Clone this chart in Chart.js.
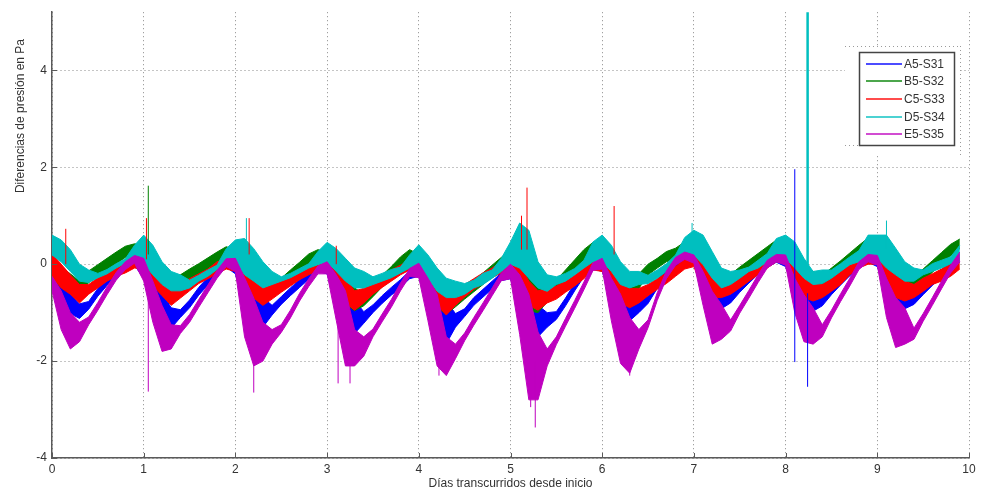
<!DOCTYPE html>
<html>
<head>
<meta charset="utf-8">
<script src="https://cdn.jsdelivr.net/npm/chart.js@4.4.1/dist/chart.umd.min.js"></script>
<style>
  html, body { margin: 0; padding: 0; background: #fff; }
  #wrap { width: 988px; height: 493px; position: relative; }
</style>
</head>
<body>
<div id="wrap"><canvas id="chart"></canvas></div>
<script>
// sample days (every 0.1 day)
const days = [
  0.0, 0.1, 0.2, 0.3, 0.4, 0.5, 0.6, 0.7, 0.8, 0.9,
  1.0, 1.1, 1.2, 1.3, 1.4, 1.5, 1.6, 1.7, 1.8, 1.9,
  2.0, 2.1, 2.2, 2.3, 2.4, 2.5, 2.6, 2.7, 2.8, 2.9,
  3.0, 3.1, 3.2, 3.3, 3.4, 3.5, 3.6, 3.7, 3.8, 3.9,
  4.0, 4.1, 4.2, 4.3, 4.4, 4.5, 4.6, 4.7, 4.8, 4.9,
  5.0, 5.1, 5.2, 5.3, 5.4, 5.5, 5.6, 5.7, 5.8, 5.9,
  6.0, 6.1, 6.2, 6.3, 6.4, 6.5, 6.6, 6.7, 6.8, 6.9,
  7.0, 7.1, 7.2, 7.3, 7.4, 7.5, 7.6, 7.7, 7.8, 7.9,
  8.0, 8.1, 8.2, 8.3, 8.4, 8.5, 8.6, 8.7, 8.8, 8.9,
  9.0, 9.1, 9.2, 9.3, 9.4, 9.5, 9.6, 9.7, 9.8, 9.9
];

const seriesNames = ['A5-S31', 'B5-S32', 'C5-S33', 'D5-S34', 'E5-S35'];
const seriesColors = ['#0000ff', '#008000', '#ff0000', '#00bfbf', '#bf00bf'];

// upper / lower edge of each noisy trace (Pa)
const a5High = [
  -0.05, -0.35, -0.62, -0.82, -0.77, -0.5, -0.28, -0.08, 0.05, 0.14,
  0.1, -0.3, -0.6, -0.9, -0.94, -0.74, -0.48, -0.27, -0.07, 0.1,
  0.1, -0.2, -0.55, -0.69, -0.85, -0.67, -0.49, -0.32, -0.15, 0.01,
  0.05, -0.2, -0.62, -0.75, -0.98, -0.84, -0.65, -0.48, -0.32, -0.14,
  0.0, -0.22, -0.62, -0.76, -1.02, -0.92, -0.69, -0.52, -0.35, -0.18,
  0.0, -0.2, -0.5, -0.85, -1.0, -0.98, -0.7, -0.39, -0.1, 0.06,
  0.15, -0.2, -0.62, -0.76, -0.78, -0.65, -0.34, -0.02, 0.11, 0.21,
  0.2, -0.05, -0.42, -0.58, -0.62, -0.42, -0.23, -0.05, 0.1, 0.2,
  0.2, -0.1, -0.45, -0.62, -0.66, -0.47, -0.27, -0.08, 0.08, 0.2,
  0.18, -0.1, -0.45, -0.6, -0.63, -0.47, -0.28, -0.11, 0.06, 0.2
];
const a5Low = [
  -0.4, -0.82, -1.02, -1.12, -0.93, -0.66, -0.44, -0.24, -0.11, -0.02,
  -0.3, -0.85, -1.15, -1.32, -1.1, -0.9, -0.64, -0.43, -0.23, -0.06,
  -0.2, -0.9, -1.16, -1.3, -1.05, -0.83, -0.65, -0.48, -0.31, -0.15,
  -0.2, -0.85, -1.23, -1.43, -1.22, -1.0, -0.81, -0.64, -0.48, -0.3,
  -0.25, -0.9, -1.3, -1.64, -1.3, -1.08, -0.85, -0.68, -0.51, -0.34,
  -0.3, -0.9, -1.3, -1.5, -1.3, -1.14, -0.86, -0.55, -0.26, -0.1,
  -0.15, -0.75, -1.1, -1.17, -1.0, -0.81, -0.5, -0.18, -0.05, 0.05,
  0.0, -0.55, -0.78, -0.92, -0.8, -0.58, -0.39, -0.21, -0.06, 0.04,
  -0.05, -0.6, -0.85, -0.97, -0.86, -0.63, -0.43, -0.24, -0.08, 0.04,
  -0.05, -0.6, -0.85, -0.92, -0.83, -0.63, -0.44, -0.27, -0.1, 0.04
];
const b5High = [
  0.1, -0.05, -0.2, -0.35, -0.14, -0.01, 0.12, 0.25, 0.37, 0.42,
  0.4, 0.05, -0.22, -0.35, -0.22, -0.1, 0.01, 0.13, 0.25, 0.36,
  0.3, -0.08, -0.28, -0.42, -0.45, -0.29, -0.12, 0.04, 0.21, 0.3,
  0.25, -0.08, -0.28, -0.49, -0.62, -0.43, -0.23, -0.05, 0.15, 0.3,
  0.2, -0.05, -0.42, -0.62, -0.64, -0.48, -0.33, -0.18, -0.02, 0.14,
  0.3, 0.0, -0.29, -0.49, -0.54, -0.33, -0.12, 0.09, 0.3, 0.45,
  0.35, 0.0, -0.22, -0.35, -0.2, 0.0, 0.12, 0.26, 0.33, 0.46,
  0.46, 0.26, -0.01, -0.15, -0.21, -0.06, 0.08, 0.22, 0.36, 0.5,
  0.5, 0.26, -0.01, -0.15, -0.23, -0.08, 0.07, 0.23, 0.39, 0.54,
  0.5, 0.26, -0.01, -0.15, -0.27, -0.1, 0.07, 0.24, 0.41, 0.52
];
const b5Low = [
  -0.3, -0.45, -0.55, -0.62, -0.38, -0.25, -0.12, 0.01, 0.14, 0.22,
  0.0, -0.35, -0.55, -0.69, -0.46, -0.34, -0.23, -0.11, 0.01, 0.12,
  -0.05, -0.5, -0.69, -0.8, -0.69, -0.53, -0.36, -0.2, -0.03, 0.1,
  -0.05, -0.55, -0.82, -0.96, -0.86, -0.67, -0.47, -0.29, -0.09, 0.1,
  -0.1, -0.6, -0.9, -1.03, -0.88, -0.72, -0.57, -0.42, -0.26, -0.1,
  -0.05, -0.75, -0.96, -1.0, -0.78, -0.57, -0.36, -0.15, 0.06, 0.2,
  0.0, -0.55, -0.76, -0.8, -0.5, -0.22, -0.08, 0.05, 0.12, 0.2,
  0.15, -0.29, -0.42, -0.49, -0.45, -0.3, -0.16, -0.02, 0.12, 0.27,
  0.2, -0.29, -0.49, -0.56, -0.47, -0.32, -0.17, -0.01, 0.15, 0.3,
  0.2, -0.29, -0.49, -0.56, -0.51, -0.34, -0.17, 0.0, 0.17, 0.32
];
const c5High = [
  0.22, 0.0, -0.22, -0.42, -0.42, -0.28, -0.15, -0.02, 0.05, 0.15,
  0.2, 0.0, -0.2, -0.45, -0.4, -0.3, -0.2, -0.1, 0.05, 0.1,
  0.15, 0.0, -0.2, -0.45, -0.42, -0.32, -0.22, -0.1, 0.0, 0.1,
  0.1, -0.05, -0.3, -0.55, -0.5, -0.38, -0.25, -0.12, -0.02, 0.08,
  0.1, -0.1, -0.35, -0.6, -0.55, -0.42, -0.3, -0.18, -0.08, 0.05,
  0.1, 0.0, -0.35, -0.55, -0.5, -0.45, -0.35, -0.22, -0.08, 0.08,
  0.15, -0.05, -0.3, -0.5, -0.5, -0.42, -0.3, -0.18, -0.05, 0.1,
  0.22, 0.0, -0.29, -0.42, -0.42, -0.29, -0.15, -0.02, 0.12, 0.25,
  0.26, 0.1, -0.29, -0.42, -0.42, -0.29, -0.15, -0.02, 0.12, 0.2,
  0.26, 0.05, -0.22, -0.35, -0.42, -0.29, -0.2, -0.1, 0.0, 0.12
];
const c5Low = [
  -0.28, -0.49, -0.62, -0.8, -0.62, -0.49, -0.35, -0.25, -0.18, -0.08,
  -0.1, -0.45, -0.65, -0.85, -0.7, -0.55, -0.4, -0.3, -0.2, -0.1,
  -0.15, -0.45, -0.7, -0.85, -0.72, -0.58, -0.45, -0.32, -0.22, -0.12,
  -0.15, -0.5, -0.8, -0.95, -0.8, -0.62, -0.48, -0.35, -0.22, -0.12,
  -0.15, -0.55, -0.85, -1.05, -0.85, -0.68, -0.52, -0.4, -0.28, -0.18,
  -0.2, -0.55, -0.85, -0.95, -0.8, -0.72, -0.58, -0.45, -0.3, -0.12,
  -0.15, -0.5, -0.8, -0.9, -0.8, -0.65, -0.52, -0.4, -0.25, -0.1,
  -0.05, -0.56, -0.69, -0.69, -0.62, -0.49, -0.35, -0.22, -0.08, 0.05,
  0.0, -0.56, -0.69, -0.76, -0.69, -0.56, -0.42, -0.22, -0.08, 0.0,
  0.0, -0.56, -0.69, -0.76, -0.69, -0.56, -0.42, -0.35, -0.25, -0.1
];
const d5High = [
  0.6, 0.5, 0.3, 0.0, -0.12, -0.19, -0.11, 0.01, 0.11, 0.39,
  0.6, 0.39, 0.05, -0.15, -0.22, -0.33, -0.23, -0.12, -0.02, 0.32,
  0.5, 0.53, 0.32, 0.05, -0.15, -0.26, -0.19, -0.09, 0.01, 0.26,
  0.45, 0.32, 0.12, -0.08, -0.15, -0.26, -0.19, -0.11, -0.06, 0.19,
  0.4, 0.19, -0.08, -0.29, -0.35, -0.4, -0.33, -0.19, -0.12, 0.12,
  0.46, 0.85, 0.7, 0.05, -0.22, -0.26, -0.19, -0.09, 0.08, 0.46,
  0.6, 0.39, 0.05, -0.15, -0.15, -0.23, -0.12, 0.01, 0.19, 0.55,
  0.7, 0.6, 0.26, -0.08, -0.15, -0.12, -0.06, 0.08, 0.22, 0.53,
  0.6, 0.46, 0.12, -0.15, -0.12, -0.12, 0.01, 0.15, 0.28, 0.6,
  0.6, 0.6, 0.33, 0.05, -0.08, -0.12, 0.01, 0.08, 0.15, 0.39
];
const d5Low = [
  0.19, 0.05, -0.15, -0.35, -0.38, -0.28, -0.2, -0.08, 0.02, 0.05,
  0.0, -0.22, -0.42, -0.55, -0.55, -0.49, -0.35, -0.25, -0.11, -0.01,
  0.05, -0.22, -0.35, -0.49, -0.42, -0.35, -0.28, -0.18, -0.08, -0.01,
  0.05, -0.15, -0.35, -0.49, -0.49, -0.42, -0.35, -0.28, -0.18, -0.08,
  0.0, -0.29, -0.56, -0.69, -0.69, -0.62, -0.49, -0.42, -0.29, -0.15,
  0.0, -0.08, -0.29, -0.49, -0.56, -0.42, -0.35, -0.22, -0.08, 0.05,
  0.05, -0.15, -0.42, -0.49, -0.42, -0.4, -0.29, -0.15, -0.01, 0.12,
  0.19, -0.01, -0.29, -0.49, -0.42, -0.29, -0.15, -0.08, 0.05, 0.12,
  0.12, -0.08, -0.29, -0.42, -0.4, -0.29, -0.15, -0.01, 0.05, 0.12,
  0.12, -0.08, -0.22, -0.35, -0.35, -0.22, -0.15, -0.08, 0.01, 0.05
];
const e5High = [
  -0.25, -0.55, -1.0, -1.2, -1.09, -0.79, -0.47, -0.17, 0.05, 0.18,
  0.12, -0.35, -0.85, -1.25, -1.27, -1.04, -0.73, -0.43, -0.13, 0.11,
  0.12, -0.28, -0.7, -1.2, -1.35, -1.25, -0.95, -0.6, -0.3, -0.04,
  0.05, -0.22, -0.55, -1.35, -1.5, -1.34, -1.03, -0.73, -0.39, -0.09,
  0.02, -0.29, -0.62, -1.5, -1.65, -1.42, -1.1, -0.8, -0.49, -0.18,
  0.0, -0.22, -0.62, -1.4, -1.75, -1.5, -1.12, -0.75, -0.37, 0.03,
  0.12, -0.29, -0.62, -1.1, -1.35, -1.15, -0.59, -0.14, 0.14, 0.25,
  0.19, -0.15, -0.56, -0.83, -1.15, -0.85, -0.54, -0.22, 0.08, 0.2,
  0.19, -0.29, -0.63, -0.9, -1.25, -0.95, -0.61, -0.29, 0.05, 0.2,
  0.18, -0.29, -0.69, -0.9, -1.32, -1.02, -0.69, -0.35, -0.02, 0.25
];
const e5Low = [
  -0.55, -1.35, -1.75, -1.6, -1.25, -0.95, -0.63, -0.33, -0.11, 0.02,
  -0.35, -1.2, -1.8, -1.75, -1.43, -1.2, -0.89, -0.59, -0.29, -0.05,
  -0.15, -1.5, -2.1, -2.0, -1.65, -1.41, -1.11, -0.76, -0.46, -0.2,
  -0.2, -1.16, -2.1, -2.1, -1.9, -1.5, -1.19, -0.89, -0.55, -0.25,
  -0.28, -1.17, -2.1, -2.3, -1.95, -1.58, -1.26, -0.96, -0.65, -0.34,
  -0.3, -1.45, -2.8, -2.8, -2.1, -1.66, -1.28, -0.91, -0.53, -0.13,
  -0.1, -1.17, -2.05, -2.25, -1.75, -1.31, -0.75, -0.3, -0.02, 0.1,
  0.02, -0.85, -1.65, -1.55, -1.38, -1.01, -0.7, -0.38, -0.08, 0.05,
  -0.02, -1.0, -1.6, -1.65, -1.5, -1.11, -0.77, -0.45, -0.11, 0.05,
  -0.02, -1.1, -1.72, -1.65, -1.55, -1.18, -0.85, -0.51, -0.18, 0.05
];

// isolated spikes: series index, day, bottom, top
const spikeSeries = [1, 4, 2, 2, 4, 2, 3, 4, 4, 2, 4, 2, 2, 4, 4, 2, 4, 3, 0, 3, 0, 3];
const spikeDays = [1.05, 1.05, 0.15, 1.03, 2.2, 2.15, 2.12, 3.12, 3.25, 3.1, 4.22, 5.18, 5.12, 5.27, 5.22, 6.13, 6.3, 6.98, 8.1, 8.24, 8.24, 9.1];
const spikeLow = [0.2, -2.63, 0.0, 0.1, -2.65, 0.2, 0.3, -2.46, -2.46, 0.0, -2.3, 0.3, 0.3, -3.37, -2.95, 0.2, -2.3, 0.3, -2.02, -0.3, -2.53, 0.3];
const spikeHigh = [1.62, -0.5, 0.73, 0.95, -1.5, 0.95, 0.95, -1.2, -1.5, 0.38, -1.5, 1.58, 1.0, -2.0, -2.0, 1.2, -1.5, 0.85, 1.96, 6.0, -0.6, 0.9];

const xTicks = [0, 1, 2, 3, 4, 5, 6, 7, 8, 9, 10];
const yTicks = [-4, -2, 0, 2, 4];

const highs = [a5High, b5High, c5High, d5High, e5High];
const lows = [a5Low, b5Low, c5Low, d5Low, e5Low];

const datasets = [];
seriesNames.forEach((name, s) => {
  const color = seriesColors[s];
  datasets.push({
    label: name,
    data: days.map((d, i) => ({ x: d, y: highs[s][i] })),
    borderColor: color, backgroundColor: color,
    borderWidth: 1, pointRadius: 0, fill: '+1', order: 10 - s
  });
  datasets.push({
    label: name + ' low',
    data: days.map((d, i) => ({ x: d, y: lows[s][i] })),
    borderColor: color, borderWidth: 1, pointRadius: 0, fill: false, order: 10 - s
  });
});
spikeDays.forEach((d, k) => {
  datasets.push({
    label: 'spike',
    data: [{ x: d, y: spikeLow[k] }, { x: d, y: spikeHigh[k] }],
    borderColor: seriesColors[spikeSeries[k]],
    borderWidth: spikeHigh[k] > 5 ? 2.5 : 1,
    pointRadius: 0, fill: false, order: 1
  });
});

const FONT = '"Liberation Sans", Arial, sans-serif';
const TEXT = '#333333';

// inward ticks, axis titles and the legend box
const decorations = {
  id: 'decorations',
  afterDraw(chart) {
    const { ctx, chartArea: area, scales: { x, y } } = chart;
    ctx.save();
    ctx.strokeStyle = '#5a5a5a';
    ctx.lineWidth = 1;
    xTicks.forEach(v => {
      const px = Math.round(x.getPixelForValue(v)) + 0.5;
      ctx.beginPath(); ctx.moveTo(px, area.bottom); ctx.lineTo(px, area.bottom - 5); ctx.stroke();
    });
    yTicks.forEach(v => {
      const py = Math.round(y.getPixelForValue(v)) + 0.5;
      ctx.beginPath(); ctx.moveTo(area.left, py); ctx.lineTo(area.left + 5, py); ctx.stroke();
    });

    ctx.fillStyle = TEXT;
    ctx.font = '12px ' + FONT;
    ctx.textAlign = 'center';
    ctx.textBaseline = 'middle';
    ctx.fillText('Días transcurridos desde inicio', (area.left + area.right) / 2, 484);
    ctx.save();
    ctx.translate(21, 116);
    ctx.rotate(-Math.PI / 2);
    ctx.fillText('Diferencias de presión en Pa', 0, 0);
    ctx.restore();

    // legend background (hides grid) with dotted edge
    ctx.fillStyle = '#ffffff';
    ctx.fillRect(845, 46, 116, 110);
    ctx.strokeStyle = '#9a9a9a';
    ctx.setLineDash([1, 3]);
    ctx.beginPath();
    ctx.moveTo(845, 46.5); ctx.lineTo(961, 46.5);
    ctx.moveTo(960.5, 46); ctx.lineTo(960.5, 156);
    ctx.moveTo(845, 145.5); ctx.lineTo(859, 145.5);
    ctx.stroke();
    ctx.setLineDash([]);

    ctx.strokeStyle = '#444444';
    ctx.lineWidth = 1.5;
    ctx.strokeRect(859.5, 52.5, 95, 93);

    ctx.textAlign = 'left';
    seriesNames.forEach((name, s) => {
      const ly = Math.round(63.5 + s * 17.7);
      ctx.save();
      ctx.globalAlpha = 0.7;
      ctx.strokeStyle = seriesColors[s];
      ctx.lineWidth = 2;
      ctx.beginPath(); ctx.moveTo(866, ly); ctx.lineTo(902, ly); ctx.stroke();
      ctx.restore();
      ctx.fillStyle = TEXT;
      ctx.fillText(name, 904, ly + 0.5);
    });
    ctx.restore();
  }
};

const gridStyle = { color: '#8a8a8a', lineWidth: 1, drawTicks: false };
const borderStyle = { display: true, color: '#5a5a5a', width: 1.5, dash: [1, 3] };
const tickFont = { family: FONT, size: 12 };

new Chart(document.getElementById('chart').getContext('2d'), {
  type: 'line',
  data: { datasets },
  options: {
    responsive: true,
    maintainAspectRatio: false,
    animation: false,
    layout: { padding: { top: 8, right: 19, left: 0, bottom: 0 } },
    plugins: { legend: { display: false }, tooltip: { enabled: false } },
    elements: { line: { tension: 0 } },
    scales: {
      x: {
        type: 'linear', min: 0, max: 10,
        afterBuildTicks: s => { s.ticks = xTicks.map(v => ({ value: v })); },
        afterFit: s => { s.height = 35; },
        grid: gridStyle, border: borderStyle,
        ticks: { color: TEXT, font: tickFont, padding: 4, maxRotation: 0, autoSkip: false }
      },
      y: {
        type: 'linear', min: -4, max: 5.2,
        afterBuildTicks: s => { s.ticks = yTicks.map(v => ({ value: v })); },
        afterFit: s => { s.width = 52; },
        grid: gridStyle, border: borderStyle,
        ticks: { color: TEXT, font: tickFont, padding: 5 }
      }
    }
  },
  plugins: [decorations]
});
</script>
</body>
</html>
